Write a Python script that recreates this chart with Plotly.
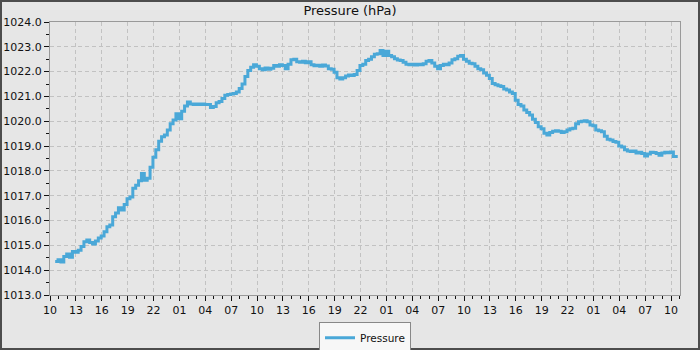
import pandas as pd
import plotly.graph_objects as go

# Time stamps: 20-minute readings starting 10:36
start_time = "2023-01-10 10:36"
step = "20min"

pressure = [
    1014.35, 1014.42, 1014.33, 1014.55, 1014.65, 1014.52, 1014.75, 1014.72, 1014.80, 1014.95,
    1015.15, 1015.22, 1015.12, 1015.05, 1015.18, 1015.30, 1015.38, 1015.55, 1015.75, 1015.82,
    1016.15, 1016.30, 1016.52, 1016.42, 1016.65, 1016.88, 1016.95, 1017.30, 1017.42, 1017.60,
    1017.90, 1017.62, 1017.70, 1018.15, 1018.55, 1018.85, 1019.20, 1019.38, 1019.45, 1019.65,
    1019.90, 1020.05, 1020.30, 1020.10, 1020.40, 1020.62, 1020.78, 1020.70, 1020.68, 1020.70,
    1020.68, 1020.70, 1020.68, 1020.68, 1020.55, 1020.60, 1020.75, 1020.80, 1020.92, 1021.05,
    1021.08, 1021.10, 1021.12, 1021.18, 1021.32, 1021.50, 1021.80, 1022.05, 1022.18, 1022.28,
    1022.22, 1022.12, 1022.08, 1022.15, 1022.10, 1022.14, 1022.25, 1022.22, 1022.28, 1022.25,
    1022.12, 1022.30, 1022.48, 1022.50, 1022.40, 1022.38, 1022.42, 1022.36, 1022.40, 1022.28,
    1022.24, 1022.26, 1022.22, 1022.27, 1022.23, 1022.12, 1022.10, 1021.98, 1021.75, 1021.70,
    1021.75, 1021.82, 1021.86, 1021.84, 1021.88, 1022.05, 1022.25, 1022.30, 1022.45, 1022.50,
    1022.60, 1022.70, 1022.72, 1022.85, 1022.65, 1022.82, 1022.65, 1022.60, 1022.52, 1022.47,
    1022.45, 1022.38, 1022.30, 1022.28, 1022.30, 1022.27, 1022.30, 1022.28, 1022.32, 1022.42,
    1022.45, 1022.35, 1022.22, 1022.12, 1022.25, 1022.30, 1022.28, 1022.35, 1022.48, 1022.52,
    1022.62, 1022.65, 1022.50, 1022.42, 1022.34, 1022.32, 1022.22, 1022.12, 1022.08, 1021.95,
    1021.85, 1021.72, 1021.52, 1021.47, 1021.43, 1021.40, 1021.30, 1021.26, 1021.18, 1021.12,
    1020.85, 1020.68, 1020.62, 1020.45, 1020.35, 1020.25, 1020.08, 1019.95, 1019.78, 1019.70,
    1019.52, 1019.45, 1019.55, 1019.60, 1019.62, 1019.60, 1019.55, 1019.58, 1019.65, 1019.70,
    1019.72, 1019.90, 1019.98, 1020.00, 1020.02, 1019.98, 1019.85, 1019.82, 1019.65, 1019.62,
    1019.58, 1019.40, 1019.28, 1019.25, 1019.18, 1019.15, 1019.00, 1018.96, 1018.85, 1018.80,
    1018.78, 1018.80, 1018.72, 1018.75, 1018.70, 1018.60, 1018.68, 1018.75, 1018.74, 1018.70,
    1018.63, 1018.72, 1018.75, 1018.73, 1018.76, 1018.58, 1018.52,
]

times = pd.date_range(start=start_time, periods=len(pressure), freq=step)

x_range = ["2023-01-10 10:00", "2023-01-13 11:02"]
y_range = [1013.0, 1024.0]

FONT = "DejaVu Sans, sans-serif"

fig = go.Figure()
fig.add_trace(go.Scatter(
    x=times, y=pressure, mode="lines", name="Pressure",
    line=dict(color="#4aa8d8", width=3, shape="hv"),
))

fig.update_layout(
    width=700, height=350,
    margin=dict(l=50, r=20, t=22, b=55, autoexpand=False),
    paper_bgcolor="#e6e6e6",
    plot_bgcolor="#e6e6e6",
    font=dict(family=FONT, size=11, color="#111111"),
    title=dict(text="Pressure (hPa)", x=0.5, xanchor="center", y=0.969, yanchor="middle",
               font=dict(family=FONT, size=13, color="#111111")),
    showlegend=True,
    legend=dict(
        orientation="h", x=0.5, xanchor="center", y=-0.157, yanchor="middle",
        bgcolor="#f7f7f7", bordercolor="#888888", borderwidth=1,
        font=dict(family=FONT, size=10.5, color="#111111"),
        itemwidth=30, tracegroupgap=0,
    ),
    xaxis=dict(
        type="date", range=x_range, automargin=False,
        tick0="2023-01-10 10:00", dtick=3 * 3600 * 1000, tickformat="%H",
        ticks="outside", ticklen=5, tickcolor="#111111", tickwidth=1,
        showline=True, linecolor="#999999", linewidth=1, mirror=True,
        showgrid=True, gridcolor="#c2c2c2", griddash="4px,3px", gridwidth=1,
        zeroline=False,
        minor=dict(dtick=3600 * 1000, ticks="outside", ticklen=3, tickcolor="#111111", showgrid=False),
        tickfont=dict(family=FONT, size=11, color="#111111"),
    ),
    yaxis=dict(
        range=y_range, dtick=1, tick0=1013, tickformat=".1f", automargin=False,
        ticks="outside", ticklen=5, tickcolor="#111111", tickwidth=1,
        showline=True, linecolor="#999999", linewidth=1, mirror=True,
        showgrid=True, gridcolor="#c2c2c2", griddash="4px,3px", gridwidth=1,
        zeroline=False,
        minor=dict(dtick=0.5, ticks="outside", ticklen=3, tickcolor="#111111", showgrid=False),
        tickfont=dict(family=FONT, size=11, color="#111111"),
    ),
    shapes=[dict(type="rect", xref="paper", yref="paper", x0=-49/630, x1=1 + 19/630,
                 y0=-54/273, y1=1 + 21/273,
                 line=dict(color="#4d4d4d", width=2), fillcolor="rgba(0,0,0,0)", layer="above")],
)

fig.write_html("out.html", config={"displayModeBar": False},
               post_script="document.body.style.margin='0';document.body.style.overflow='hidden';")
